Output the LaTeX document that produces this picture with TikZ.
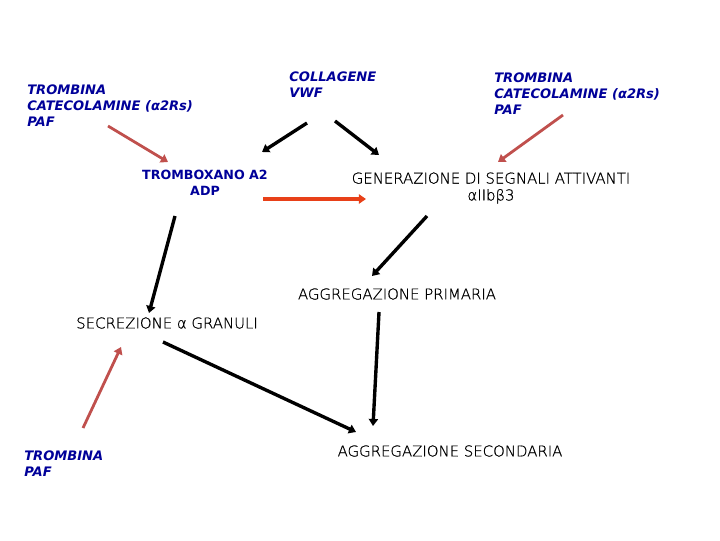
\documentclass[tikz,border=0pt]{standalone}
\usepackage{fontspec}
\setmainfont{DejaVu Sans}
\newfontfamily\thinfont[FakeBold=0.8]{DejaVu Sans ExtraLight}
\usetikzlibrary{arrows.meta,calc}
\definecolor{navy}{RGB}{0,0,153}
\definecolor{brick}{RGB}{192,80,77}
\definecolor{flame}{RGB}{232,64,24}
\begin{document}
\begin{tikzpicture}[x=0.025cm,y=-0.025cm,
agent/.style={font=\bfseries\itshape\fontsize{9.3}{11.4}\selectfont,text=navy,align=left,inner sep=0,anchor=west},
agentc/.style={font=\bfseries\fontsize{9}{11.8}\selectfont,text=navy,align=center,inner sep=0},
stage/.style={font=\thinfont\fontsize{10.6}{12}\selectfont,align=center,inner sep=0},
arr/.style={line width=2.4pt,-{Triangle[length=5pt,width=6.5pt]}},
redarr/.style={arr,brick,line width=2pt},
firearr/.style={arr,flame,line width=2.8pt}]
\useasboundingbox(0,0)rectangle(720,540);
\node[agent](src1)at(27,106){TROMBINA\\CATECOLAMINE (α2Rs)\\PAF};
\node[agent](col)at(289,85){COLLAGENE\\VWF};
\node[agent](src2)at(494,94){TROMBINA\\CATECOLAMINE (α2Rs)\\PAF};
\node[agentc](tbx)at(205,183){TROMBOXANO A2\\ADP};
\node[stage](gen)at(491,188){GENERAZIONE DI SEGNALI ATTIVANTI\\αIIbβ3};
\node[stage](prim)at(397,294){AGGREGAZIONE PRIMARIA};
\node[stage](secr)at(167,323){SECREZIONE α GRANULI};
\node[stage](sec2)at(450,451){AGGREGAZIONE SECONDARIA};
\node[agent](src3)at(24,464){TROMBINA\\PAF};
\draw[redarr]($(src1.west)+(81,20)$)--($(tbx)+(-37,-21)$);
\draw[arr]($(col.west)+(18,38)$)--($(tbx)+(57,-31)$);
\draw[arr]($(col.west)+(46,36)$)--($(gen)+(-112,-33)$);
\draw[redarr]($(src2.west)+(69,21)$)--($(gen)+(7,-26)$);
\draw[firearr]($(tbx)+(58,16)$)--($(gen)+(-125,11)$);
\draw[arr]($(tbx)+(-30,33)$)--($(secr)+(-18,-10)$);
\draw[arr]($(gen)+(-64,28)$)--($(prim)+(-25,-18)$);
\draw[arr]($(prim)+(-18,18)$)--($(sec2)+(-77,-25)$);
\draw[arr]($(secr)+(-4,19)$)--($(sec2)+(-94,-19)$);
\draw[redarr]($(src3.west)+(59,-36)$)--($(secr)+(-46,24)$);
\end{tikzpicture}
\end{document}
